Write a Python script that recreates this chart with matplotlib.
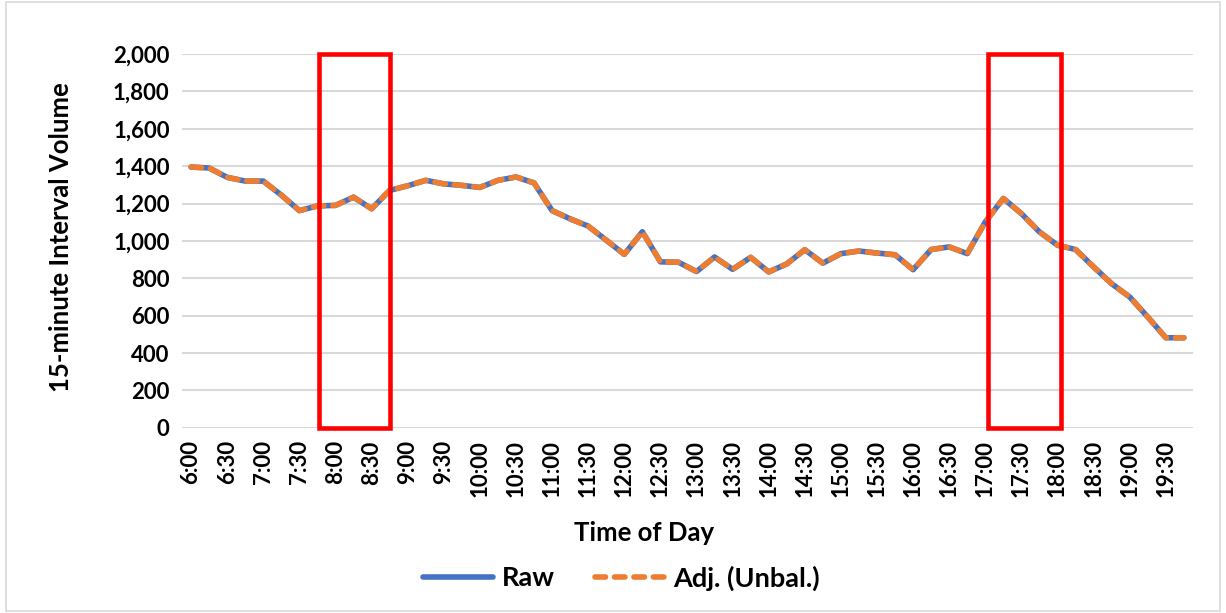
import numpy as np
import matplotlib.pyplot as plt
from matplotlib.patches import Rectangle

plt.rcParams['font.family'] = ['Lato', 'DejaVu Sans']

# 15-minute intervals from 6:00 to 19:45
tick_labels = ['6:00', '6:30', '7:00', '7:30', '8:00', '8:30', '9:00', '9:30',
               '10:00', '10:30', '11:00', '11:30', '12:00', '12:30', '13:00', '13:30',
               '14:00', '14:30', '15:00', '15:30', '16:00', '16:30', '17:00', '17:30',
               '18:00', '18:30', '19:00', '19:30']

raw = [1395, 1390, 1340, 1320, 1320, 1245, 1162, 1187, 1190, 1234,
       1172, 1270, 1295, 1324, 1305, 1297, 1286, 1324, 1342, 1310,
       1162, 1118, 1079, 1004, 928, 1049, 888, 886, 836, 914,
       848, 912, 834, 877, 953, 881, 932, 946, 935, 926,
       846, 954, 968, 932, 1102, 1227, 1146, 1048, 977, 954,
       861, 771, 700, 593, 482, 482]
adj = list(raw)  # adjusted series overlays the raw one

# highlighted windows (category index ranges)
windows = [(7.1, 11.0), (44.15, 48.2)]

x = np.arange(len(raw))

fig = plt.figure(figsize=(12.26, 6.13), dpi=100)
ax = fig.add_axes([0.1485, 0.302, 0.8245, 0.61])

ax.plot(x, raw, color='#4472C4', linewidth=4.0, label='Raw', solid_capstyle='round', zorder=3)
ax.plot(x, adj, color='#ED7D31', linewidth=4.0, label='Adj. (Unbal.)',
        dashes=(1.9, 1.6), dash_capstyle='round', zorder=4)

for x0, x1 in windows:
    ax.add_patch(Rectangle((x0, 0), x1 - x0, 2000, fill=False, edgecolor='#FF0000',
                           linewidth=3.3, clip_on=False, zorder=5))

ax.set_xlim(-0.5, len(raw) - 0.5)
ax.set_ylim(0, 2000)
ax.set_yticks(np.arange(0, 2001, 200))
ax.set_yticklabels([f'{v:,}' for v in range(0, 2001, 200)])
ax.set_xticks(np.arange(0, len(raw), 2))
ax.set_xticklabels(tick_labels, rotation=90)
ax.tick_params(length=0, labelsize=16, pad=9)
for lbl in ax.get_xticklabels() + ax.get_yticklabels():
    lbl.set_fontweight('bold')
ax.grid(axis='y', color='#D9D9D9', linewidth=1.5)
ax.set_axisbelow(True)
for s in ax.spines.values():
    s.set_visible(False)

ax.set_ylabel('15-minute Interval Volume', fontsize=18.5, fontweight='bold')
ax.yaxis.set_label_coords(-0.108, 0.51)
ax.set_xlabel('Time of Day', fontsize=18.5, fontweight='bold')
ax.xaxis.set_label_coords(0.457, -0.25)

fig.legend(loc='center', bbox_to_anchor=(0.507, 0.057), ncol=2, frameon=False,
           prop={'size': 19.5, 'weight': 'bold'}, handlelength=2.6, columnspacing=1.5,
           handletextpad=0.3)

fig.add_artist(Rectangle((0.005, 0.003), 0.99, 0.994, transform=fig.transFigure,
                         fill=False, edgecolor='#D9D9D9', linewidth=1.2))

fig.savefig('out.png', dpi=100)
